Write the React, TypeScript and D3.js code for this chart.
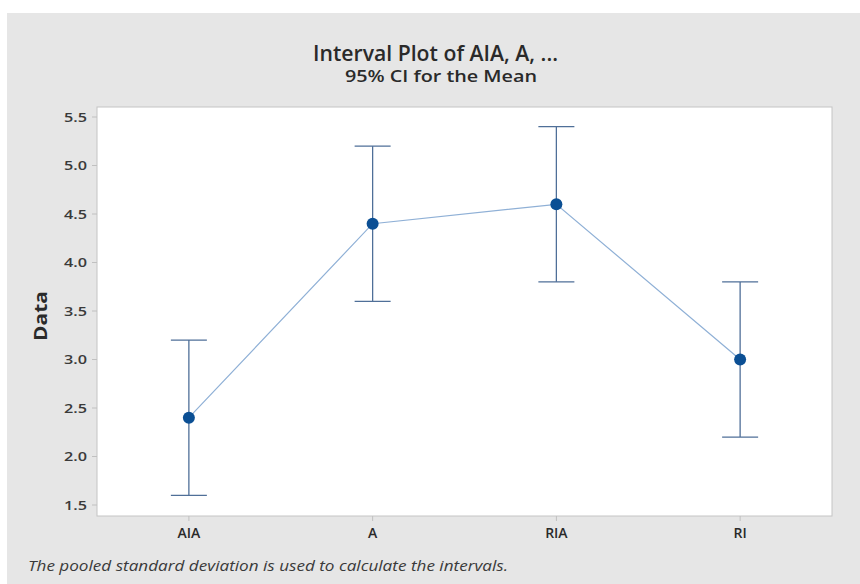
import React from "react";
import * as d3 from "d3";

const categories = ["AIA", "A", "RIA", "RI"];
const means = [2.4, 4.4, 4.6, 3.0];
const lower = [1.6, 3.6, 3.8, 2.2];
const upper = [3.2, 5.2, 5.4, 3.8];
const yTicks = [1.5, 2.0, 2.5, 3.0, 3.5, 4.0, 4.5, 5.0, 5.5];

const W = 860,
  H = 584;
const plot = { left: 97, right: 832, top: 107, bottom: 516 };
const font = "'Open Sans', 'Noto Sans', sans-serif";

export default function App() {
  const x = d3
    .scaleBand<string>()
    .domain(categories)
    .range([plot.left, plot.right])
    .padding(0);
  const y = d3.scaleLinear().domain([1.5, 5.5]).range([505, 117]);

  const cx = (c: string) => (x(c) as number) + x.bandwidth() / 2;
  const pts: [number, number][] = categories.map((c, i) => [cx(c), y(means[i])]);
  const line = d3.line()(pts) as string;
  const capHalf = 18;

  return (
    <svg
      width={W}
      height={H}
      style={{ position: "absolute", left: 0, top: 0 }}
      fontFamily={font}
    >
      <rect x={0} y={0} width={W} height={H} fill="#ffffff" />
      <rect x={7} y={13} width={W - 7} height={H - 13} fill="#e6e6e6" />
      <rect
        x={plot.left}
        y={plot.top}
        width={plot.right - plot.left}
        height={plot.bottom - plot.top}
        fill="#ffffff"
        stroke="#c4c4c4"
        strokeWidth={1}
      />

      {/* titles */}
      <text
        x={313}
        y={61}
        fontSize={21}
        fontWeight={600}
        fill="#2a2a2a"
        textLength={245}
        lengthAdjust="spacingAndGlyphs"
      >
        Interval Plot of AIA, A, ...
      </text>
      <text
        x={345}
        y={82}
        fontSize={16}
        fontWeight={600}
        fill="#2a2a2a"
        textLength={192}
        lengthAdjust="spacingAndGlyphs"
      >
        95% CI for the Mean
      </text>

      {/* y axis */}
      {yTicks.map((t) => (
        <g key={t}>
          <line
            x1={plot.left - 5}
            x2={plot.left}
            y1={y(t)}
            y2={y(t)}
            stroke="#c0c0c0"
          />
          <text
            x={plot.left - 10}
            y={y(t)}
            dy="0.36em"
            textAnchor="end"
            fontSize={12.5}
            fontWeight={600}
            fill="#3a3a3a"
            textLength={23}
            lengthAdjust="spacingAndGlyphs"
          >
            {t.toFixed(1)}
          </text>
        </g>
      ))}
      <text
        transform={`translate(47, 316) rotate(-90)`}
        textAnchor="middle"
        fontSize={18}
        fontWeight="bold"
        fill="#2a2a2a"
        textLength={50}
        lengthAdjust="spacingAndGlyphs"
      >
        Data
      </text>

      {/* x axis */}
      {categories.map((c) => (
        <g key={c}>
          <line
            x1={cx(c)}
            x2={cx(c)}
            y1={plot.bottom}
            y2={plot.bottom + 5}
            stroke="#c0c0c0"
          />
          <text
            x={cx(c)}
            y={538}
            textAnchor="middle"
            fontSize={14}
            fontWeight={600}
            fill="#2a2a2a"
          >
            {c}
          </text>
        </g>
      ))}

      {/* connect line */}
      <path d={line} fill="none" stroke="#8fb0d6" strokeWidth={1.2} />

      {/* intervals */}
      {categories.map((c, i) => (
        <g key={c} stroke="#4f6f98" strokeWidth={1.3}>
          <line x1={cx(c)} x2={cx(c)} y1={y(upper[i])} y2={y(lower[i])} />
          <line
            x1={cx(c) - capHalf}
            x2={cx(c) + capHalf}
            y1={y(upper[i])}
            y2={y(upper[i])}
          />
          <line
            x1={cx(c) - capHalf}
            x2={cx(c) + capHalf}
            y1={y(lower[i])}
            y2={y(lower[i])}
          />
        </g>
      ))}

      {pts.map(([px, py], i) => (
        <circle key={i} cx={px} cy={py} r={6} fill="#0b4f94" />
      ))}

      <text
        x={28}
        y={571}
        fontSize={15}
        fontStyle="italic"
        fill="#3a3a3a"
        textLength={480}
        lengthAdjust="spacingAndGlyphs"
      >
        The pooled standard deviation is used to calculate the intervals.
      </text>
    </svg>
  );
}
